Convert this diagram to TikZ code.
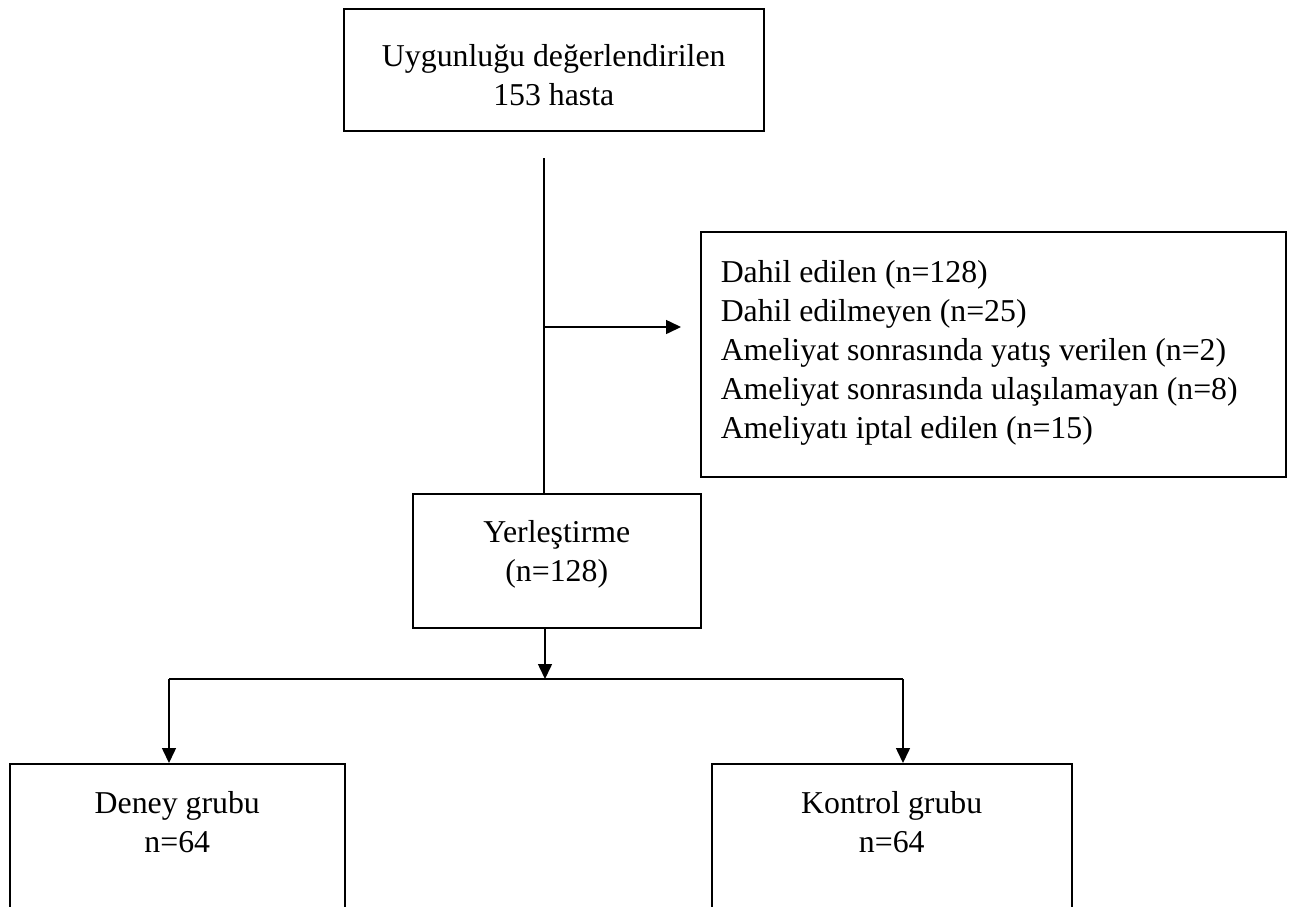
\documentclass[tikz,border=0pt]{standalone}
\usepackage{fontspec}
\setmainfont{Liberation Serif}
\usetikzlibrary{arrows.meta}
\newcommand\bx[4]{\parbox[t][#2][t]{#1}{\centering\rule{0pt}{#3}#4}}
\newcommand\bxl[4]{\parbox[t][#2][t]{#1}{\leftskip=20pt\rightskip=0pt plus 1fil\parindent=0pt\rule{0pt}{#3}#4}}
\begin{document}
\begin{tikzpicture}[x=1pt,y=-1pt,
  font=\fontsize{31.8}{39}\selectfont,
  box/.style={draw,line width=1.5pt,inner sep=0pt,anchor=north west},
  ln/.style={line width=1.5pt},
  arr/.style={line width=1.5pt,-{Triangle[length=15pt,width=14pt]}}]
\useasboundingbox (0,0) rectangle (1293,906);
\node[box] (top) at (343,8) {\bx{420pt}{122pt}{58pt}{Uygunluğu değerlendirilen\\153 hasta}};
\node[box] (excl) at (700,231) {\bxl{585pt}{245pt}{51pt}{Dahil edilen (n=128)\\Dahil edilmeyen (n=25)\\Ameliyat sonrasında yatış verilen (n=2)\\Ameliyat sonrasında ulaşılamayan (n=8)\\Ameliyatı iptal edilen (n=15)}};
\node[box] (yer) at (412,493) {\bx{288pt}{134pt}{49pt}{Yerleştirme\\(n=128)}};
\node[box] (deney) at (9,763) {\bx{335pt}{200pt}{50pt}{Deney grubu\\n=64}};
\node[box] (kontrol) at (711,763) {\bx{360pt}{200pt}{50pt}{Kontrol grubu\\n=64}};
\coordinate (v1) at (544,158);
\coordinate (branch) at (544,327);
\coordinate (split) at (545,679);
\coordinate (sl) at (169,679);
\coordinate (sr) at (903,679);
\draw[ln] (v1) -- (v1 |- yer.north);
\draw[arr,shorten >=19pt] (branch) -- (branch -| excl.west);
\draw[arr] (split |- yer.south) -- (split);
\draw[ln] (sl) -- (sr);
\draw[arr] (sl) -- (sl |- deney.north);
\draw[arr] (sr) -- (sr |- kontrol.north);
\end{tikzpicture}
\end{document}
